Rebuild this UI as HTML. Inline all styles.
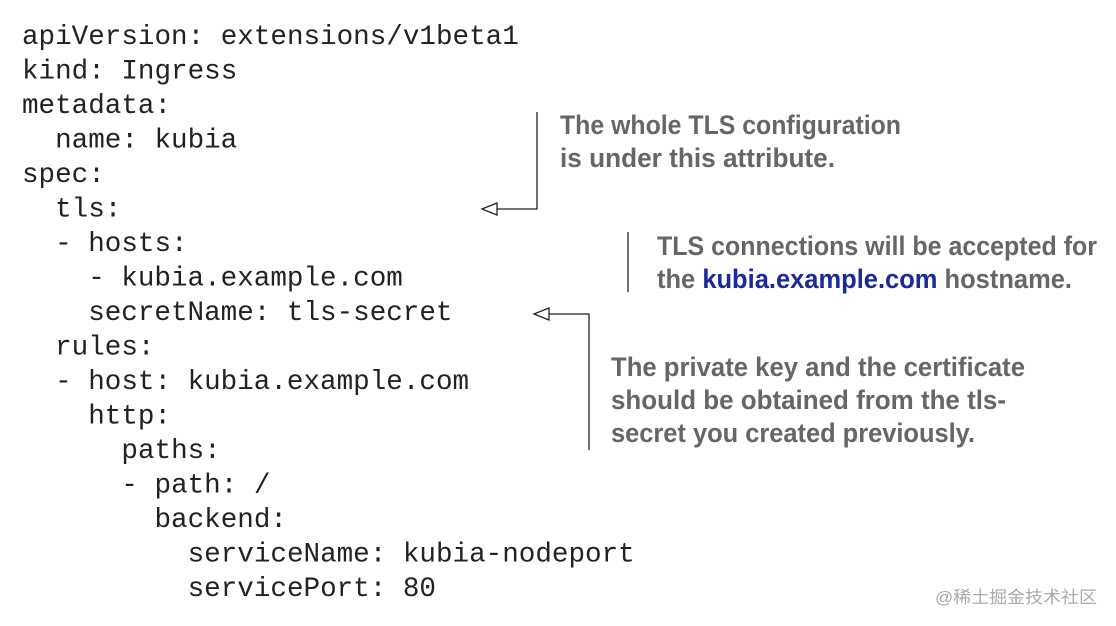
<!DOCTYPE html>
<html><head><meta charset="utf-8"><style>
html,body{margin:0;padding:0;background:#fff;width:1116px;height:626px;overflow:hidden}
svg{display:block}
.c{font-family:"Liberation Mono",monospace;font-size:27.6px;fill:#222}
.a{font-family:"Liberation Sans",sans-serif;font-weight:bold;font-size:27px;fill:#666}
</style></head><body>
<svg width="1116" height="626" viewBox="0 0 1116 626" xmlns="http://www.w3.org/2000/svg">
<g class="c">
<text x="22" y="44">apiVersion: extensions/v1beta1</text>
<text x="22" y="78.5">kind: Ingress</text>
<text x="22" y="113">metadata:</text>
<text x="55.1" y="147.5">name: kubia</text>
<text x="22" y="182">spec:</text>
<text x="55.1" y="216.5">tls:</text>
<text x="55.1" y="251">- hosts:</text>
<text x="88.2" y="285.5">- kubia.example.com</text>
<text x="88.2" y="320">secretName: tls-secret</text>
<text x="55.1" y="354.5">rules:</text>
<text x="55.1" y="389">- host: kubia.example.com</text>
<text x="88.2" y="423.5">http:</text>
<text x="121.4" y="458">paths:</text>
<text x="121.4" y="492.5">- path: /</text>
<text x="154.5" y="527">backend:</text>
<text x="187.6" y="561.5">serviceName: kubia-nodeport</text>
<text x="187.6" y="596">servicePort: 80</text>
</g>
<g fill="none" stroke="#222" stroke-width="1.3">
<polyline points="537,112 537,209 497,209"/>
<polygon points="482,209 497,203 497,215" fill="#fff"/>
<line x1="628" y1="232" x2="628" y2="292"/>
<polyline points="549,314 589,314 589,450"/>
<polygon points="534,314 549,308 549,320" fill="#fff"/>
</g>
<g class="a">
<text x="560" y="134" textLength="341" lengthAdjust="spacingAndGlyphs">The whole TLS configuration</text>
<text x="560" y="167" textLength="275" lengthAdjust="spacingAndGlyphs">is under this attribute.</text>
<text x="657" y="255" textLength="440" lengthAdjust="spacingAndGlyphs">TLS connections will be accepted for</text>
<text x="657" y="288" textLength="415" lengthAdjust="spacingAndGlyphs">the <tspan fill="#1a2a9a">kubia.example.com</tspan> hostname.</text>
<text x="611" y="376" textLength="414" lengthAdjust="spacingAndGlyphs">The private key and the certificate</text>
<text x="611" y="409" textLength="395" lengthAdjust="spacingAndGlyphs">should be obtained from the tls-</text>
<text x="611" y="442" textLength="364" lengthAdjust="spacingAndGlyphs">secret you created previously.</text>
</g>
<text x="935" y="603" textLength="162" lengthAdjust="spacingAndGlyphs" style="font-family:'Liberation Sans','Noto Sans CJK SC',sans-serif;font-size:17px;fill:#aaa">@稀土掘金技术社区</text>
</svg>
</body></html>
